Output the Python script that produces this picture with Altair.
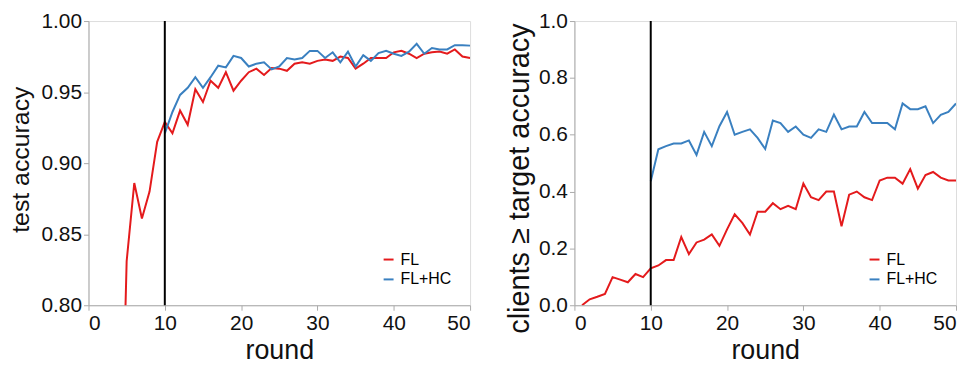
import altair as alt
import pandas as pd

# ---- data ----
rounds_fl = list(range(1, 51))
acc_fl = [0.10, 0.25, 0.45, 0.62, 0.831, 0.886, 0.861, 0.880, 0.915, 0.929,
          0.921, 0.937, 0.927, 0.952, 0.943, 0.958, 0.953, 0.964, 0.951, 0.958,
          0.964, 0.9665, 0.962, 0.967, 0.9665, 0.965, 0.970, 0.971, 0.970, 0.972,
          0.973, 0.972, 0.975, 0.974, 0.9665, 0.970, 0.974, 0.974, 0.974, 0.978,
          0.979, 0.977, 0.974, 0.977, 0.978, 0.9785, 0.977, 0.980, 0.975, 0.974]

rounds_hc = list(range(10, 51))
acc_hc = [0.921, 0.936, 0.948, 0.953, 0.9605, 0.953, 0.9605, 0.9686, 0.9674, 0.9755,
          0.974, 0.968, 0.970, 0.971, 0.966, 0.968, 0.974, 0.973, 0.974, 0.979,
          0.979, 0.974, 0.978, 0.971, 0.9785, 0.968, 0.976, 0.972, 0.9774, 0.979,
          0.977, 0.9755, 0.9785, 0.984, 0.977, 0.981, 0.980, 0.980, 0.983, 0.983,
          0.9827]

clients_fl = [0.00, 0.021, 0.030, 0.040, 0.099, 0.090, 0.081, 0.110, 0.099, 0.130,
              0.140, 0.159, 0.159, 0.240, 0.180, 0.221, 0.231, 0.249, 0.209, 0.267,
              0.320, 0.290, 0.249, 0.329, 0.329, 0.359, 0.338, 0.350, 0.338, 0.428,
              0.380, 0.370, 0.400, 0.400, 0.278, 0.389, 0.400, 0.380, 0.370, 0.439,
              0.449, 0.449, 0.428, 0.479, 0.410, 0.458, 0.469, 0.449, 0.439, 0.439]

clients_hc = [0.436, 0.549, 0.560, 0.569, 0.569, 0.580, 0.529, 0.610, 0.560, 0.630,
              0.680, 0.600, 0.610, 0.619, 0.589, 0.550, 0.650, 0.641, 0.610, 0.629,
              0.600, 0.589, 0.619, 0.610, 0.671, 0.619, 0.629, 0.629, 0.680, 0.641,
              0.641, 0.641, 0.619, 0.710, 0.690, 0.690, 0.700, 0.641, 0.670, 0.680,
              0.710]

series_names = ["FL", "FL+HC"]
series_colors = ["#e41a1c", "#3a80c0"]
marker_round = [10]

x_ticks = [0, 10, 20, 30, 40, 50]
acc_ticks = [0.80, 0.85, 0.90, 0.95, 1.00]
clients_ticks = [0.0, 0.2, 0.4, 0.6, 0.8, 1.0]

acc_df = pd.concat([
    pd.DataFrame({"round": rounds_fl, "value": acc_fl, "series": "FL"}),
    pd.DataFrame({"round": rounds_hc, "value": acc_hc, "series": "FL+HC"}),
])
clients_df = pd.concat([
    pd.DataFrame({"round": rounds_fl, "value": clients_fl, "series": "FL"}),
    pd.DataFrame({"round": rounds_hc, "value": clients_hc, "series": "FL+HC"}),
])
marker_df = pd.DataFrame({"round": marker_round})

FONT = "Liberation Sans"

color = alt.Color(
    "series:N",
    scale=alt.Scale(domain=series_names, range=series_colors),
    legend=alt.Legend(
        title=None, orient="bottom-right", symbolType="stroke",
        symbolSize=100, symbolStrokeWidth=2, labelFontSize=16,
        labelFont=FONT, rowPadding=4, offset=18,
    ),
)

x_enc = alt.X(
    "round:Q",
    scale=alt.Scale(domain=[0, 50], nice=False),
    axis=alt.Axis(values=x_ticks, title="round", format="d"),
)


def panel(df, ytitle, ydomain, yticks, yfmt, tsize, tpad, ty):
    lines = alt.Chart(df).mark_line(strokeWidth=2, clip=True).encode(
        x=x_enc,
        y=alt.Y(
            "value:Q",
            scale=alt.Scale(domain=ydomain, nice=False, zero=False),
            axis=alt.Axis(values=yticks, format=yfmt, title=ytitle,
                          titleFontSize=tsize, titlePadding=tpad, titleY=ty),
        ),
        color=color,
        order="round:Q",
    )
    rule = alt.Chart(marker_df).mark_rule(color="black", strokeWidth=2).encode(
        x="round:Q"
    )
    return alt.layer(lines, rule).properties(width=384, height=286)


left = panel(acc_df, "test accuracy", [0.8, 1.0], acc_ticks, ".2f", 25, 7, 139)
right = panel(clients_df, "clients ≥ target accuracy", [0.0, 1.0],
              clients_ticks, ".1f", 29, 4, 158)

chart = (
    alt.hconcat(left, right, spacing=34)
    .resolve_legend(color="independent")
    .properties(padding=0)
    .configure_view(stroke="#dddddd")
    .configure_axis(
        grid=False,
        labelFont=FONT, titleFont=FONT,
        labelFontSize=21, titleFontSize=27,
        titleFontWeight="normal", labelColor="#111", titleColor="#111",
        domainColor="#aaaaaa", tickColor="#aaaaaa", tickSize=5,
        labelPadding=2,
    )
    .configure_axisX(titlePadding=5)
)

chart.save("out.html", embed_options={"renderer": "svg", "actions": False})
